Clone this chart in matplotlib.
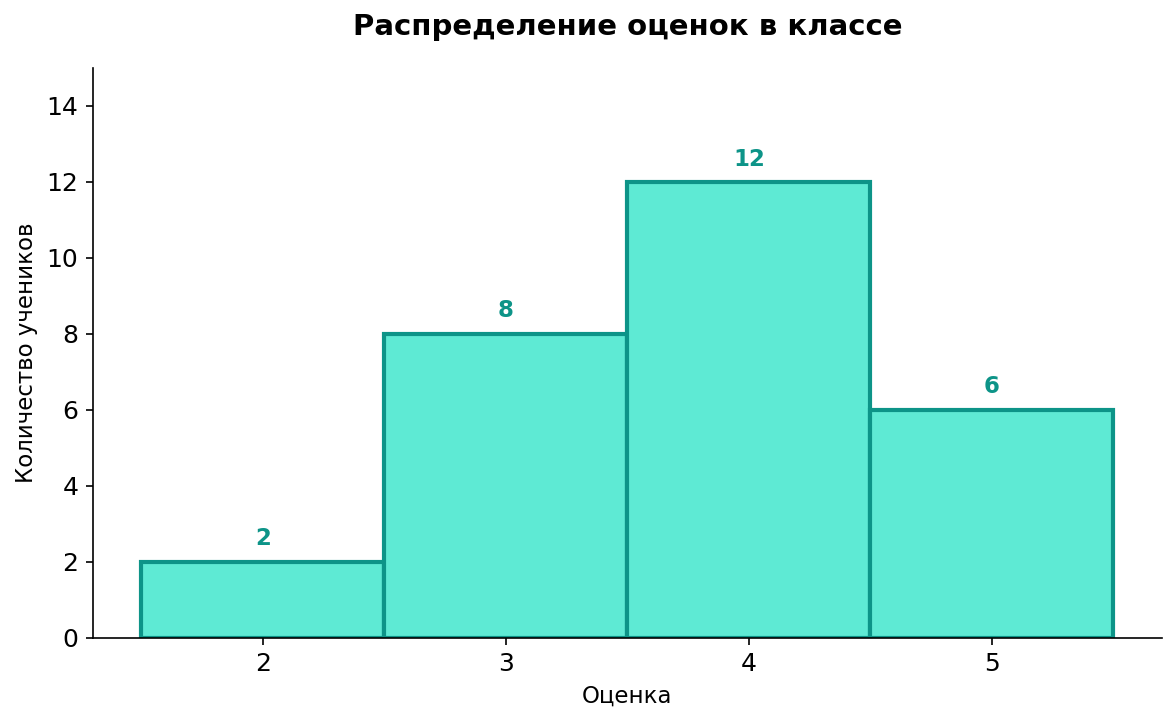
import matplotlib.pyplot as plt

grades = [2, 3, 4, 5]
counts = [2, 8, 12, 6]

fig, ax = plt.subplots(figsize=(7.84, 4.82), dpi=150)
fig.subplots_adjust(left=0.079, right=0.988, top=0.906, bottom=0.118)

bars = ax.bar(grades, counts, width=1.0, color='#5EEAD4', edgecolor='#0D9488', linewidth=2)
for g, c in zip(grades, counts):
    ax.text(g, c + 0.3, str(c), ha='center', va='bottom', color='#0D9488',
            fontsize=11, fontweight='bold')

ax.set_xlim(1.3, 5.7)
ax.set_ylim(0, 15)
ax.set_xticks(grades)
ax.set_yticks(range(0, 15, 2))
ax.tick_params(labelsize=12)
ax.spines['top'].set_visible(False)
ax.spines['right'].set_visible(False)
ax.set_xlabel('Оценка', fontsize=11)
ax.set_ylabel('Количество учеников', fontsize=11)
ax.set_title('Распределение оценок в классе', fontsize=14, fontweight='bold', pad=16)

fig.savefig('out.png', dpi=150)
